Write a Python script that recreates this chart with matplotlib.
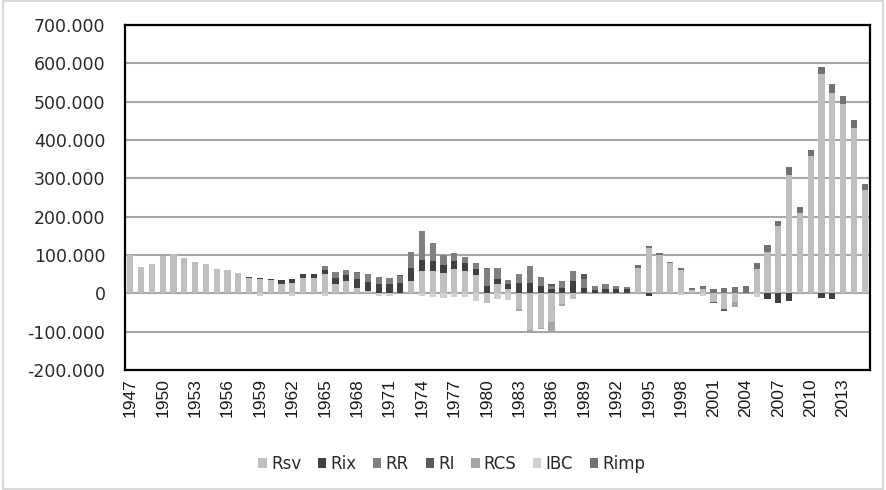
import numpy as np
import matplotlib
matplotlib.use("Agg")
import matplotlib.pyplot as plt
from matplotlib.ticker import FuncFormatter, MultipleLocator
from matplotlib.patches import Rectangle

years = list(range(1947, 2016))

# values in thousands (labels use "." as thousands separator)
Rsv = [100, 69, 77, 97, 103, 92, 82, 76, 63, 60,
       54, 39, 36, 34, 23, 27, 40, 40, 50, 24,
       31, 15, 6, 0, 0, 0, 31, 58, 59, 53,
       64, 59, 48, -25, 23, 12, -42, -97, -90, -75,
       -27, -14, 0, 0, 0, 0, 0, 67, 119, 101,
       80, 62, 8, 10, -23, -42, -22, 0, 63, 108,
       176, 309, 210, 357, 573, 522, 495, 431, 270]
Rix = [0, 0, 0, 0, 0, 0, 0, 0, 0, 0,
       0, 3, 3, 2, 11, 10, 10, 10, 10, 16,
       16, 22, 23, 24, 24, 27, 34, 28, 24, 21,
       21, 21, 16, 18, 14, 13, 28, 28, 18, 11,
       15, 32, 15, 8, 11, 10, 10, 0, -6, 0,
       0, 0, 0, 0, 0, 0, 0, 0, 0, -15,
       -26, -20, 0, 0, -11, -14, 0, 0, 0]
RR = [0, 0, 0, 0, 0, 0, 0, 0, 0, 0,
      0, 0, 0, 0, 0, 0, 0, 0, 12, 16,
      14, 15, 21, 19, 17, 17, 43, 76, 49, 26,
      20, 14, 16, 45, 30, 9, 22, 44, 24, 7,
      16, 26, 23, 10, 12, 9, 6, 0, 0, 0,
      0, 0, 0, 0, 0, 0, 0, 0, 0, 0,
      0, 0, 0, 0, 0, 0, 0, 0, 0]
RI = [0, 0, 0, 0, 0, 0, 0, 0, 0, 0,
      0, 0, 0, 0, 0, 0, 0, 0, 0, 0,
      0, 0, 0, 0, 0, 3, 0, 0, 0, 0,
      0, 0, 0, 0, 0, 0, 0, 0, 0, 5,
      0, 0, 12, 0, 0, 0, 0, 0, 0, 0,
      0, 0, 0, 0, -3, -4, 0, 0, 0, 0,
      0, 0, 0, 0, 0, 0, 0, 0, 0]
RCS = [0, 0, 0, 0, 0, 0, 0, 0, 0, 0,
       0, 0, 0, 0, 0, 0, 0, 0, 0, 0,
       0, 0, 0, 0, 0, 0, 0, 0, 0, 0,
       0, 0, 0, 0, 0, 0, -5, -5, -2, -26,
       -6, 0, 0, 0, 0, 0, 0, 0, 0, 0,
       0, 0, 0, 0, 0, 0, -15, 0, 0, 0,
       0, 0, 0, 0, 0, 0, 0, 0, 0]
IBC = [0, 0, 0, 0, 0, 0, 0, 0, 0, 0,
       0, 0, -6, 0, 0, -6, 0, 0, -6, 0,
       0, 0, 0, -6, -6, 0, 0, -6, -9, -11,
       -9, -9, -20, 0, -14, -17, 0, 0, 0, 0,
       0, 0, 0, 0, 0, 0, 0, 0, 0, 0,
       0, -5, 0, -7, 0, 0, 0, 0, -9, 0,
       0, 0, 0, 0, 0, 0, 0, 0, 0]
Rimp = [0, 0, 0, 0, 0, 0, 0, 0, 0, 0,
        0, 0, 0, 0, 0, 0, 0, 0, 0, 0,
        0, 3, 0, 0, 0, 0, 0, 0, 0, 0,
        0, 0, 0, 3, 0, 0, 0, 0, 0, 0,
        0, 0, 0, 0, 0, 0, 0, 8, 4, 3,
        2, 5, 5, 9, 10, 13, 16, 18, 17, 19,
        13, 20, 14, 17, 18, 24, 21, 22, 14]

series_names = ["Rsv", "Rix", "RR", "RI", "RCS", "IBC", "Rimp"]
series_vals = [Rsv, Rix, RR, RI, RCS, IBC, Rimp]
colors = ["#BFBFBF", "#404040", "#808080", "#5A5A5A", "#A5A5A5", "#D0D0D0", "#727272"]

fig = plt.figure(figsize=(8.86, 4.90), dpi=100)
ax = fig.add_axes([0.141, 0.245, 0.841, 0.704])

x = np.arange(len(years))
pos_bottom = np.zeros(len(years))
neg_bottom = np.zeros(len(years))
handles = []
for name, vals, c in zip(series_names, series_vals, colors):
    v = np.array(vals, dtype=float)
    bottom = np.where(v >= 0, pos_bottom, neg_bottom)
    h = ax.bar(x, v, width=0.58, bottom=bottom, color=c, label=name, zorder=3, linewidth=0)
    handles.append(h)
    pos_bottom = pos_bottom + np.where(v > 0, v, 0)
    neg_bottom = neg_bottom + np.where(v < 0, v, 0)

ax.set_xlim(-0.5, len(years) - 0.5)
ax.set_ylim(-200, 700)
ax.yaxis.set_major_locator(MultipleLocator(100))

def fmt(v, p):
    if abs(v) < 1e-9:
        return "0"
    return f"{v*1000:,.0f}".replace(",", ".")
ax.yaxis.set_major_formatter(FuncFormatter(fmt))

ax.set_xticks(x[::3])
ax.set_xticklabels([str(y) for y in years[::3]], rotation=90,
                   family="Liberation Sans", fontsize=12.5, color="#1a1a1a")
ax.tick_params(axis="x", length=0, pad=6)
ax.tick_params(axis="y", length=0, pad=14)
for lab in ax.get_yticklabels():
    lab.set_family("DejaVu Sans")
    lab.set_fontsize(12.5)
    lab.set_color("#2a2a2a")

ax.grid(axis="y", color="#A6A6A6", linewidth=1.5, zorder=0)
ax.set_axisbelow(True)
for s in ax.spines.values():
    s.set_color("black")
    s.set_linewidth(1.6)

leg = fig.legend(handles=handles, labels=series_names, loc="center",
                 bbox_to_anchor=(0.51, 0.053), ncol=7, frameon=False,
                 handlelength=0.5, handleheight=0.5, handletextpad=0.25,
                 columnspacing=1.0, prop={"family": "DejaVu Sans", "size": 12})
for t in leg.get_texts():
    t.set_color("#2a2a2a")

fig.patches.append(Rectangle((0.003, 0.003), 0.994, 0.994, transform=fig.transFigure,
                             fill=False, edgecolor="#D9D9D9", linewidth=1.5))

fig.savefig("out.png", dpi=100)
